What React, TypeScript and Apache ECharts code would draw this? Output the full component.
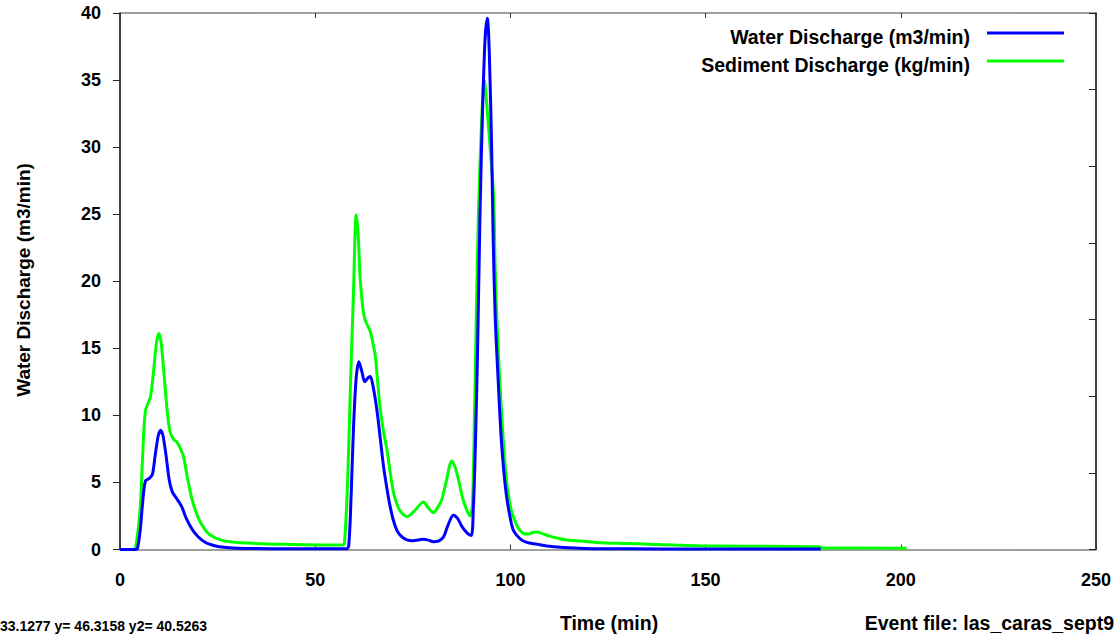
import React, { useEffect, useRef } from "react";
import * as echarts from "echarts";

const FONT = "'Liberation Sans', Arial, sans-serif";

const seriesNames = ["Water Discharge (m3/min)", "Sediment Discharge (kg/min)"];
const xAxisTitle = "Time (min)";
const yAxisTitle = "Water Discharge (m3/min)";
const eventFileText = "Event file: las_caras_sept9";
const cursorText = "33.1277 y= 46.3158 y2= 40.5263";

const waterDischarge: [number, number][] = [
  [0, 0], [4, 0], [4.5, 0.1], [5.2, 1.5], [5.8, 3.5], [6.5, 5.1], [7.5, 5.3], [8.3, 5.6],
  [9, 7], [9.8, 8.5], [10.4, 8.9], [11, 8.5], [11.8, 7], [12.6, 5.2], [13.4, 4.3], [14.5, 3.8],
  [15.8, 3.2], [17, 2.3], [18.5, 1.5], [20, 0.95], [22, 0.5], [24, 0.3], [26, 0.18], [30, 0.1],
  [40, 0.06], [50, 0.05], [58, 0.05], [58.6, 0.3], [59.2, 4], [59.8, 9], [60.5, 12.8], [61.2, 14.0],
  [62, 13.2], [62.7, 12.5], [63.5, 12.8], [64.1, 12.9], [64.8, 12.2], [65.8, 10.4], [66.7, 8.2],
  [67.5, 6.2], [68.4, 4.5], [69.2, 3.2], [70, 2.2], [70.9, 1.45], [72, 1.0], [73.5, 0.72], [75, 0.65],
  [77.7, 0.76], [79, 0.7], [80.3, 0.58], [81.7, 0.65], [82.9, 0.95], [84, 1.8], [85.4, 2.55],
  [86.5, 2.3], [87.6, 1.7], [89, 1.2], [90, 1.05], [90.5, 3], [91, 7.4], [91.6, 15], [92.2, 24.8],
  [92.8, 32], [93.5, 38], [94.1, 39.6], [94.6, 37], [95.2, 29.8], [95.6, 23], [96.1, 17.4],
  [96.9, 12.4], [97.5, 9], [98.2, 6.2], [99, 4], [99.9, 2.45], [100.8, 1.4], [102.5, 0.8],
  [104.2, 0.53], [106.7, 0.4], [109.3, 0.26], [113.6, 0.15], [119, 0.08], [130, 0.05], [150, 0.04],
  [179.5, 0.03],
];

const sedimentDischarge: [number, number][] = [
  [0, 0], [3.5, 0], [4.2, 0.5], [5.2, 3.2], [5.8, 7], [6.5, 10.3], [7.8, 11.4], [8.5, 13],
  [9.3, 15.3], [9.9, 16.1], [10.5, 15.5], [11.3, 13], [12.2, 10], [12.9, 8.7], [13.8, 8.2],
  [14.6, 8.0], [15.5, 7.5], [16.3, 6.9], [17.3, 5.3], [18.5, 3.7], [20, 2.4], [21.5, 1.6],
  [23, 1.1], [26, 0.7], [31, 0.5], [44, 0.38], [57, 0.33], [57.5, 0.5], [58.3, 5], [59, 12],
  [59.8, 19.1], [60.5, 24.95], [61, 23.5], [61.5, 20.3], [62.2, 18], [62.8, 17.1], [64.1, 16.25],
  [64.7, 15.5], [65.4, 14.4], [66, 12.5], [66.7, 10.4], [67.5, 8.8], [68.4, 7.4], [69.3, 5.6],
  [70.1, 4.2], [71.5, 3.0], [73.5, 2.45], [75.5, 2.9], [77.7, 3.55], [79, 3.1], [80.3, 2.75],
  [81.5, 3.2], [82.4, 3.7], [83.5, 5.0], [85, 6.6], [86, 6.0], [86.7, 5.2], [88, 3.6], [89.7, 2.5],
  [90.3, 3.5], [90.8, 10], [91.3, 18], [91.8, 24.8], [92.5, 31], [93.3, 35.0], [94, 33], [94.8, 30],
  [95.7, 26.3], [96.1, 21], [96.5, 17.4], [97.2, 13], [97.8, 9.9], [98.4, 7.2], [99.1, 4.9],
  [100, 3.2], [100.8, 2.4], [102, 1.6], [103.3, 1.2], [104.5, 1.15], [105.5, 1.25], [106.7, 1.3],
  [108.5, 1.15], [110, 1.0], [112, 0.85], [114.4, 0.71], [117, 0.66], [120, 0.58], [123, 0.51],
  [130, 0.45], [135.7, 0.39], [142, 0.33], [148.5, 0.28], [159, 0.25], [179, 0.2], [180, 0.12],
  [201.5, 0.1],
];

const colors = ["#0000ff", "#00ff00"];

export default function App() {
  const ref = useRef<HTMLDivElement>(null);
  useEffect(() => {
    if (!ref.current) return;
    const chart = echarts.init(ref.current, null, { renderer: "svg" });
    const bold = { fontFamily: FONT, fontWeight: "bold" as const, fill: "#000" };
    chart.setOption({
      animation: false,
      backgroundColor: "#fff",
      grid: { left: 120, right: 20, top: 13, bottom: 84.5, containLabel: false },
      xAxis: [
        {
          type: "value", min: 0, max: 250, interval: 50, position: "bottom",
          axisLine: { show: true, onZero: false, lineStyle: { color: "#808080", width: 1.5 } },
          axisTick: { show: true, inside: true, length: 5, lineStyle: { color: "#333" } },
          axisLabel: { color: "#000", fontFamily: FONT, fontWeight: "bold", fontSize: 18, margin: 21 },
          splitLine: { show: false },
        },
        {
          type: "value", min: 0, max: 250, interval: 50, position: "top",
          axisLine: { show: true, onZero: false, lineStyle: { color: "#808080", width: 1.5 } },
          axisTick: { show: true, inside: true, length: 5, lineStyle: { color: "#333" } },
          axisLabel: { show: false },
          splitLine: { show: false },
        },
      ],
      yAxis: [
        {
          type: "value", min: 0, max: 40, interval: 5, position: "left",
          axisLine: { show: true, onZero: false, lineStyle: { color: "#000", width: 1.5 } },
          axisTick: { show: true, inside: false, length: 7, lineStyle: { color: "#222" } },
          axisLabel: { color: "#000", fontFamily: FONT, fontWeight: "bold", fontSize: 18, margin: 19 },
          splitLine: { show: false },
        },
        {
          type: "value", min: 0, max: 7, interval: 1, position: "right",
          axisLine: { show: true, onZero: false, lineStyle: { color: "#000", width: 1.5 } },
          axisTick: { show: true, inside: true, length: 7, lineStyle: { color: "#222" } },
          axisLabel: { show: false },
          splitLine: { show: false },
        },
      ],
      series: [
        {
          name: seriesNames[0], type: "line", data: waterDischarge, xAxisIndex: 0, yAxisIndex: 0,
          showSymbol: false, smooth: 0.3, lineStyle: { color: colors[0], width: 3 }, itemStyle: { color: colors[0] },
          z: 3,
        },
        {
          name: seriesNames[1], type: "line", data: sedimentDischarge, xAxisIndex: 0, yAxisIndex: 0,
          showSymbol: false, smooth: 0.3, lineStyle: { color: colors[1], width: 3 }, itemStyle: { color: colors[1] },
          z: 2,
        },
      ],
      graphic: [
        { type: "text", x: 970, y: 37, z: 10, style: { ...bold, text: seriesNames[0], fontSize: 19.5, align: "right", verticalAlign: "middle" } },
        { type: "line", z: 10, shape: { x1: 987, y1: 33, x2: 1064, y2: 33 }, style: { stroke: colors[0], lineWidth: 3 } },
        { type: "text", x: 970, y: 65, z: 10, style: { ...bold, text: seriesNames[1], fontSize: 19.5, align: "right", verticalAlign: "middle" } },
        { type: "line", z: 10, shape: { x1: 987, y1: 61, x2: 1064, y2: 61 }, style: { stroke: colors[1], lineWidth: 3 } },
        { type: "text", x: 609, y: 623, z: 10, style: { ...bold, text: xAxisTitle, fontSize: 19.5, align: "center", verticalAlign: "middle" } },
        { type: "text", x: 1114, y: 623, z: 10, style: { ...bold, text: eventFileText, fontSize: 19.5, align: "right", verticalAlign: "middle" } },
        { type: "text", x: 0, y: 626, z: 10, style: { ...bold, text: cursorText, fontSize: 14, align: "left", verticalAlign: "middle" } },
        { type: "text", x: 23, y: 280, rotation: Math.PI / 2, z: 10, style: { ...bold, text: yAxisTitle, fontSize: 19, align: "center", verticalAlign: "middle" } },
      ],
    });
    return () => chart.dispose();
  }, []);
  return <div ref={ref} style={{ position: "fixed", left: 0, top: 0, width: 1116, height: 634 }} />;
}
